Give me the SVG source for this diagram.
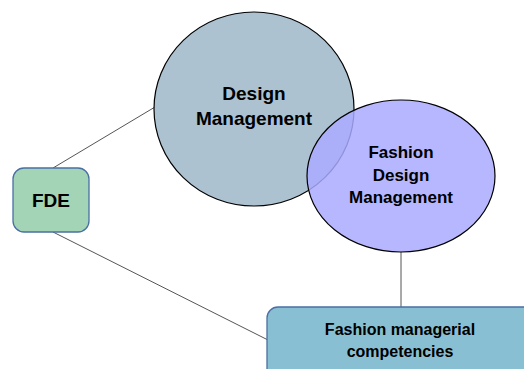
<svg xmlns="http://www.w3.org/2000/svg" width="524" height="369" viewBox="0 0 524 369">
<style>
.t{font-family:"Liberation Sans",Arial,sans-serif;font-weight:bold;fill:#000;text-anchor:middle}
.c{stroke:#555;stroke-width:1;fill:none}
.box{stroke:#4a6fa5;stroke-width:1.3}
</style>
<rect width="524" height="369" fill="#fff"/>
<g id="connectors">
<line class="c" x1="53" y1="168" x2="155" y2="107"/>
<line class="c" x1="53" y1="232" x2="268" y2="340"/>
<line class="c" x1="401" y1="252" x2="401" y2="307"/>
</g>
<g id="design-management">
<ellipse cx="254" cy="109" rx="100" ry="97" fill="#adc2d0" stroke="#000" stroke-width="1.2"/>
<text class="t" x="254" y="100" font-size="19">Design</text>
<text class="t" x="254" y="125" font-size="19">Management</text>
</g>
<g id="fashion-design-management">
<ellipse cx="401" cy="176" rx="94" ry="76" fill="#aaaaff" fill-opacity="0.85" stroke="#000" stroke-width="1.2"/>
<text class="t" x="401" y="158" font-size="17">Fashion</text>
<text class="t" x="401" y="181" font-size="17">Design</text>
<text class="t" x="401" y="203" font-size="17">Management</text>
</g>
<g id="fde">
<rect class="box" x="13" y="168" width="76" height="64" rx="11" fill="#a3d4b5"/>
<text class="t" x="51" y="207" font-size="19">FDE</text>
</g>
<g id="fashion-managerial-competencies">
<rect class="box" x="267" y="307" width="280" height="80" rx="11" fill="#89bfd2"/>
<text class="t" x="400" y="335" font-size="16">Fashion managerial</text>
<text class="t" x="400" y="357" font-size="16">competencies</text>
</g>
</svg>
